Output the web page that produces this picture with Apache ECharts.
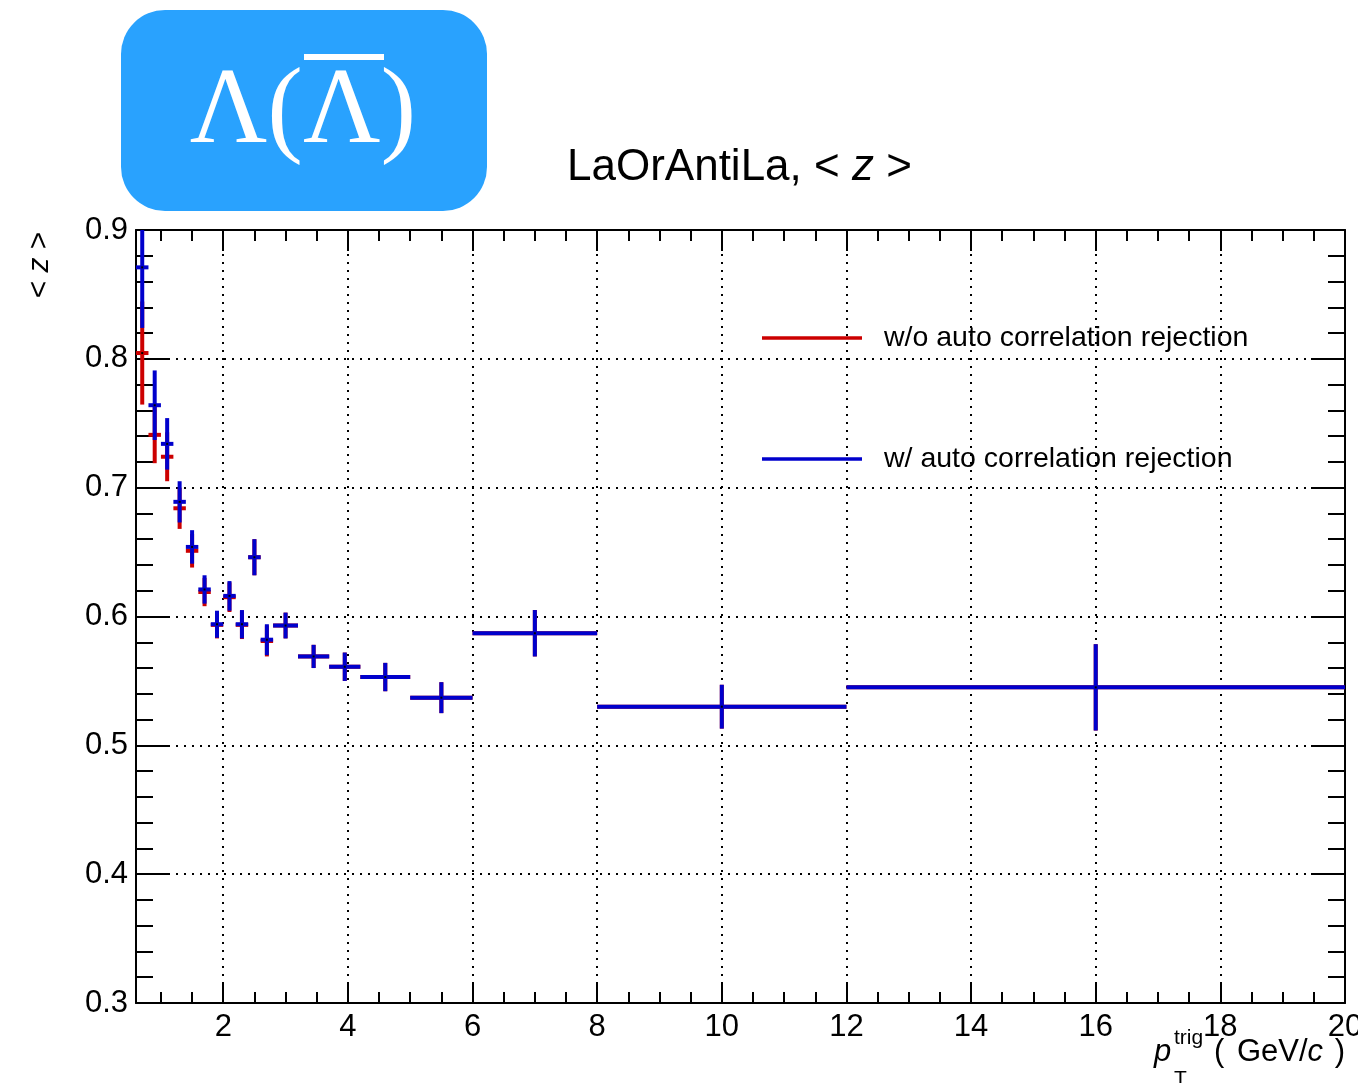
<!DOCTYPE html>
<html>
<head>
<meta charset="utf-8">
<script src="https://cdn.jsdelivr.net/npm/echarts@6/dist/echarts.min.js"></script>
<style>
  html, body { margin: 0; padding: 0; background: #fff; }
  #chart { width: 1358px; height: 1083px; }
</style>
</head>
<body>
<div id="chart"></div>
<script>
// pT(trig) bins: centre, lower and upper edge (GeV/c)
const binCenter = [0.7, 0.9, 1.1, 1.3, 1.5, 1.7, 1.9, 2.1, 2.3, 2.5, 2.7, 3.0, 3.45, 3.95, 4.6, 5.5, 7, 10, 16];
const binLow    = [0.6, 0.8, 1.0, 1.2, 1.4, 1.6, 1.8, 2.0, 2.2, 2.4, 2.6, 2.8, 3.2, 3.7, 4.2, 5, 6, 8, 12];
const binHigh   = [0.8, 1.0, 1.2, 1.4, 1.6, 1.8, 2.0, 2.2, 2.4, 2.6, 2.8, 3.2, 3.7, 4.2, 5, 6, 8, 12, 20];

// <z> without auto-correlation rejection
const zNoRej   = [0.8045, 0.741, 0.724, 0.684, 0.651, 0.619, 0.5935, 0.615, 0.5935, 0.646, 0.581, 0.593, 0.569, 0.561, 0.553, 0.537, 0.587, 0.530, 0.545];
const errNoRej = [0.040, 0.022, 0.019, 0.016, 0.013, 0.011, 0.0105, 0.0115, 0.011, 0.014, 0.012, 0.010, 0.009, 0.011, 0.011, 0.012, 0.018, 0.017, 0.0335];

// <z> with auto-correlation rejection
const zRej   = [0.871, 0.764, 0.734, 0.689, 0.654, 0.621, 0.594, 0.616, 0.594, 0.646, 0.582, 0.593, 0.569, 0.561, 0.553, 0.537, 0.587, 0.530, 0.545];
const errRej = [0.047, 0.027, 0.020, 0.016, 0.013, 0.011, 0.0105, 0.0115, 0.011, 0.014, 0.012, 0.010, 0.009, 0.011, 0.011, 0.012, 0.018, 0.017, 0.0335];

// axis ticks
const xMajorTicks = [2, 4, 6, 8, 10, 12, 14, 16, 18, 20];
const xMinorTicks = [1, 1.5, 2.5, 3, 3.5, 4.5, 5, 5.5, 6.5, 7, 7.5, 8.5, 9, 9.5, 10.5, 11, 11.5,
                     12.5, 13, 13.5, 14.5, 15, 15.5, 16.5, 17, 17.5, 18.5, 19, 19.5];
const xRange = [0.6, 20];
const yRange = [0.3, 0.9];

const seriesNames = ['w/o auto correlation rejection', 'w/ auto correlation rejection'];
const RED = '#cc0000';
const BLUE = '#0000cc';
const FONT = '"Liberation Sans", Helvetica, Arial, sans-serif';

function rows(z, err) {
  return binCenter.map((c, i) => [c, binLow[i], binHigh[i], z[i], err[i]]);
}

// cross-shaped error bars: horizontal = bin width, vertical = stat. error
function errorCross(color) {
  return function (params, api) {
    const xc = api.value(0), xl = api.value(1), xh = api.value(2);
    const y = api.value(3), e = api.value(4);
    const c = api.coord([xc, y]);
    const l = api.coord([xl, y]);
    const h = api.coord([xh, y]);
    const t = api.coord([xc, y + e]);
    const b = api.coord([xc, y - e]);
    const lw = 4;
    return {
      type: 'group',
      children: [
        { type: 'line', shape: { x1: l[0], y1: c[1], x2: h[0], y2: c[1] }, style: { stroke: color, lineWidth: lw } },
        { type: 'line', shape: { x1: c[0], y1: t[1], x2: c[0], y2: b[1] }, style: { stroke: color, lineWidth: lw } },
        { type: 'rect', shape: { x: c[0] - 1, y: c[1] - 1, width: 2, height: 2 }, style: { fill: '#000' } }
      ]
    };
  };
}

const gridRect = { left: 136, top: 230, width: 1209, height: 773, containLabel: false, outerBoundsMode: 'none' };
const frameLine = { show: true, onZero: false, lineStyle: { color: '#000', width: 2 } };
const dotted = { show: true, lineStyle: { color: '#000', width: 2, type: [2, 6] } };

function xMajorAxis(position, labels) {
  return {
    type: 'value', gridIndex: 0, position: position,
    min: xRange[0], max: xRange[1], splitNumber: 10,
    axisLine: frameLine,
    axisTick: { show: true, inside: true, length: 21, customValues: xMajorTicks, lineStyle: { color: '#000', width: 2 } },
    axisLabel: labels ? {
      show: true, customValues: xMajorTicks, margin: 9, color: '#000',
      fontFamily: FONT, fontSize: 31, formatter: v => String(v)
    } : { show: false },
    splitLine: position === 'bottom' ? dotted : { show: false }
  };
}

function xMinorAxis(position) {
  return {
    type: 'value', gridIndex: 1, position: position,
    min: xRange[0], max: xRange[1], splitNumber: 10,
    axisLine: { show: false },
    axisTick: { show: true, inside: true, length: 11, customValues: xMinorTicks, lineStyle: { color: '#000', width: 2 } },
    axisLabel: { show: false },
    splitLine: { show: false }
  };
}

function yAxisDef(position, labels) {
  return {
    type: 'value', gridIndex: 0, position: position,
    min: yRange[0], max: yRange[1], interval: 0.1,
    axisLine: frameLine,
    axisTick: { show: true, inside: true, length: 34, lineStyle: { color: '#000', width: 2 } },
    minorTick: { show: true, splitNumber: 5, length: 17, lineStyle: { color: '#000', width: 2 } },
    axisLabel: labels ? {
      show: true, margin: 8, color: '#000', fontFamily: FONT, fontSize: 31,
      formatter: v => v.toFixed(1)
    } : { show: false },
    splitLine: position === 'left' ? dotted : { show: false }
  };
}

function legendFor(name, top) {
  return {
    data: [name], left: 762, top: top, padding: 0,
    icon: 'rect', itemWidth: 100, itemHeight: 3.5,
    selectedMode: false,
    textStyle: { color: '#000', fontFamily: FONT, fontSize: 28.5, lineHeight: 30, padding: [0, 0, 0, 17] }
  };
}

const option = {
  animation: false,
  backgroundColor: '#fff',
  title: {
    left: 567, top: 145, padding: 0,
    text: '{n|LaOrAntiLa, < }{i|z}{n| >}',
    textStyle: {
      fontWeight: 'normal',
      rich: {
        n: { fontFamily: FONT, fontSize: 44, lineHeight: 46, color: '#000', fontWeight: 'normal' },
        i: { fontFamily: FONT, fontSize: 44, lineHeight: 46, color: '#000', fontWeight: 'normal', fontStyle: 'italic' }
      }
    }
  },
  legend: [legendFor(seriesNames[0], 323), legendFor(seriesNames[1], 444)],
  grid: [Object.assign({}, gridRect), Object.assign({}, gridRect)],
  xAxis: [xMajorAxis('bottom', true), xMajorAxis('top', false), xMinorAxis('bottom'), xMinorAxis('top')],
  yAxis: [
    yAxisDef('left', true),
    yAxisDef('right', false),
    { type: 'value', gridIndex: 1, min: yRange[0], max: yRange[1], show: false }
  ],
  graphic: [
    // Lambda / anti-Lambda badge
    {
      type: 'group', left: 121, top: 10,
      children: [
        { type: 'rect', shape: { x: 0, y: 0, width: 366, height: 201, r: 44 }, style: { fill: '#29a2fe' } },
        {
          type: 'text', x: 182, y: 104,
          style: { text: 'Λ(Λ)', fill: '#fff', font: '107px "Liberation Serif", "Times New Roman", serif', align: 'center', verticalAlign: 'middle' }
        },
        { type: 'rect', shape: { x: 183, y: 44, width: 80, height: 6 }, style: { fill: '#fff' } }
      ]
    },
    // y-axis title
    {
      type: 'text', x: 40, y: 265, rotation: Math.PI / 2,
      style: {
        text: '{n|< }{i|z}{n| >}', align: 'center', verticalAlign: 'middle',
        rich: {
          n: { fontFamily: FONT, fontSize: 30, fill: '#000' },
          i: { fontFamily: FONT, fontSize: 30, fill: '#000', fontStyle: 'italic' }
        }
      }
    },
    // x-axis title: p_T^trig ( GeV/c )
    { type: 'text', x: 1154, y: 1052, style: { text: 'p', font: 'italic 31px ' + FONT, fill: '#000', align: 'left', verticalAlign: 'middle' } },
    { type: 'text', x: 1174, y: 1038, style: { text: 'trig', font: '21px ' + FONT, fill: '#000', align: 'left', verticalAlign: 'middle' } },
    { type: 'text', x: 1174, y: 1079, style: { text: 'T', font: '21px ' + FONT, fill: '#000', align: 'left', verticalAlign: 'middle' } },
    {
      type: 'text', x: 1345, y: 1052,
      style: {
        text: '{o|(}{n| GeV/}{i|c}{c| )}', align: 'right', verticalAlign: 'middle',
        rich: {
          o: { fontFamily: FONT, fontSize: 31, fill: '#000', padding: [0, 4, 0, 0] },
          n: { fontFamily: FONT, fontSize: 31, fill: '#000' },
          i: { fontFamily: FONT, fontSize: 31, fill: '#000', fontStyle: 'italic' },
          c: { fontFamily: FONT, fontSize: 31, fill: '#000', padding: [0, 0, 0, 3] }
        }
      }
    }
  ],
  series: [
    {
      name: seriesNames[0], type: 'custom', xAxisIndex: 0, yAxisIndex: 0, clip: true,
      itemStyle: { color: RED },
      renderItem: errorCross(RED),
      data: rows(zNoRej, errNoRej)
    },
    {
      name: seriesNames[1], type: 'custom', xAxisIndex: 0, yAxisIndex: 0, clip: true,
      itemStyle: { color: BLUE },
      renderItem: errorCross(BLUE),
      data: rows(zRej, errRej)
    }
  ]
};

const chart = echarts.init(document.getElementById('chart'));
chart.setOption(option);
</script>
</body>
</html>
